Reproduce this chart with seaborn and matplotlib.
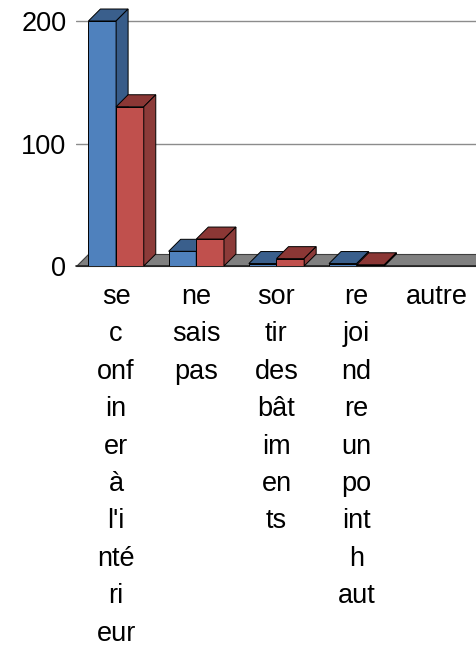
import numpy as np
import pandas as pd
import matplotlib
matplotlib.use("Agg")
import matplotlib.pyplot as plt
import seaborn as sns
from matplotlib.patches import Polygon
from matplotlib.transforms import IdentityTransform

categories = ["se confiner à l'intérieur", "ne sais pas", "sortir des bâtiments",
              "rejoindre un point haut", "autre"]
tick_labels = ["se\nc\nonf\nin\ner\nà\nl'i\nnté\nri\neur",
               "ne\nsais\npas",
               "sor\ntir\ndes\nbât\nim\nen\nts",
               "re\njoi\nnd\nre\nun\npo\nint\nh\naut",
               "autre"]
series_names = ["Série 1", "Série 2"]
values_1 = [200, 12, 2, 2, 0]
values_2 = [130, 22, 6, 1, 0]
y_ticks = [0, 100, 200]

front_colors = ["#4F81BD", "#C0504D"]
top_colors = ["#3A5F8C", "#8B3735"]
side_colors = ["#385C89", "#8C3B39"]

sns.set_theme(style="white")
plt.rcParams['font.family'] = ['Liberation Sans', 'DejaVu Sans']

df = pd.DataFrame({
    "cat": categories * 2,
    "val": values_1 + values_2,
    "serie": [series_names[0]] * len(categories) + [series_names[1]] * len(categories),
})

W, H = 477, 646
fig = plt.figure(figsize=(W / 100, H / 100), dpi=100)
ax = fig.add_axes([76 / W, (H - 266) / H, 1 - 76 / W, 266 / H])

sns.barplot(data=df, x="cat", y="val", hue="serie", order=categories,
            hue_order=series_names, palette=front_colors, width=0.69,
            saturation=1, edgecolor="black", linewidth=0.7, ax=ax,
            legend=False, errorbar=None)

ax.set_xlim(-0.5, len(categories) - 0.5)
ax.set_ylim(0, 200 * 266 / 245)
for s in ax.spines.values():
    s.set_visible(False)
ax.set_xlabel("")
ax.set_ylabel("")
ax.set_yticks(y_ticks)
ax.set_yticklabels([str(t) for t in y_ticks], fontsize=19.5, color="black")
ax.set_xticks(range(len(categories)))
ax.set_xticklabels(tick_labels, fontsize=19.5, color="black", linespacing=1.57)
ax.tick_params(axis="both", length=0)
ax.tick_params(axis="y", pad=7)
ax.tick_params(axis="x", pad=13)
ax.grid(False)

for t in y_ticks[1:]:
    ax.axhline(t, color="#8C8C8C", lw=1.0, zorder=0.5)

d = 12  # depth offset in pixels
tr = ax.transData
# floor
x0f, y0f = tr.transform((-0.5, 0))
x1f, _ = tr.transform((len(categories) - 0.5, 0))
floor = Polygon([(x0f, y0f), (x1f + 5, y0f), (x1f + 5, y0f + d), (x0f + d, y0f + d)],
                closed=True, facecolor="#808080", edgecolor="#3F3F3F", lw=0.8,
                transform=IdentityTransform(), zorder=1, clip_on=False)
ax.add_patch(floor)
ax.plot([-0.5, len(categories) - 0.5], [0, 0], color="#222222", lw=1.2,
        zorder=1.2, clip_on=False)

bars = [p for p in ax.patches if p is not floor]
n = len(categories)
for i, p in enumerate(bars):
    si = i // n
    h = p.get_height()
    if h <= 0:
        p.set_visible(False)
        continue
    p.set_zorder(2 + si)
    x = p.get_x()
    w = p.get_width()
    (ax0, ay0) = tr.transform((x, 0))
    (ax1, ay1) = tr.transform((x + w, h))
    top = Polygon([(ax0, ay1), (ax1, ay1), (ax1 + d, ay1 + d), (ax0 + d, ay1 + d)],
                  closed=True, facecolor=top_colors[si], edgecolor="black", lw=0.7,
                  transform=IdentityTransform(), zorder=2.1 + si, clip_on=False)
    side = Polygon([(ax1, ay0), (ax1, ay1), (ax1 + d, ay1 + d), (ax1 + d, ay0 + d)],
                   closed=True, facecolor=side_colors[si], edgecolor="black", lw=0.7,
                   transform=IdentityTransform(), zorder=2.1 + si, clip_on=False)
    ax.add_patch(top)
    ax.add_patch(side)

fig.savefig("out.png", dpi=100)
